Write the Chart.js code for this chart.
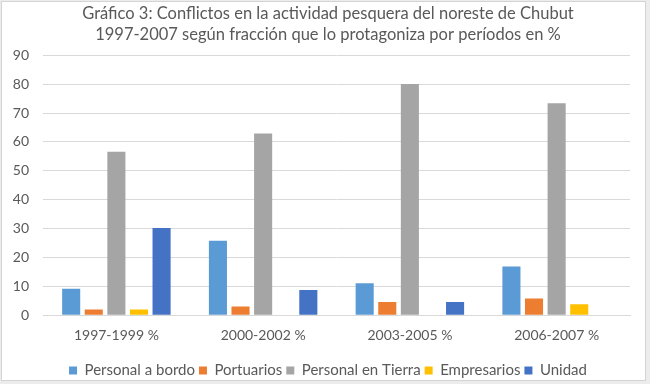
<!DOCTYPE html>
<html>
<head>
<meta charset="utf-8">
<script src="https://cdn.jsdelivr.net/npm/chart.js@4.4.1/dist/chart.umd.min.js"></script>
<style>
  html, body { margin: 0; padding: 0; background: #ececec; }
  #frame {
    position: absolute; left: 1px; top: 1px;
    width: 643px; height: 378px;
    background: #fff; border: 1px solid #d4d4d4;
  }
  #wrap { position: absolute; left: 0; top: 0; width: 643px; height: 378px; }
</style>
</head>
<body>
<div id="frame"><div id="wrap"><canvas id="barChart_conflictos"></canvas></div></div>
<script>
    // periodos
    var periodos = ['1997-1999 %', '2000-2002 %', '2003-2005 %', '2006-2007 %'];
    // fracciones
    var personalABordo = [9.2, 25.8, 11.1, 16.9];
    var portuarios = [2.0, 3.0, 4.6, 5.8];
    var personalEnTierra = [56.6, 62.9, 80.0, 73.4];
    var empresarios = [2.0, 0, 0, 3.8];
    var unidad = [30.2, 8.7, 4.6, 0];
    var yTicks = [0, 10, 20, 30, 40, 50, 60, 70, 80, 90];

    var fontFam = "Lato, 'Open Sans', sans-serif";
    var gris = '#595959';

    var barData = {
        labels: periodos,
        datasets: [
            { label: 'Personal a bordo', backgroundColor: '#5B9BD5', data: personalABordo },
            { label: 'Portuarios', backgroundColor: '#ED7D31', data: portuarios },
            { label: 'Personal en Tierra', backgroundColor: '#A5A5A5', data: personalEnTierra },
            { label: 'Empresarios', backgroundColor: '#FFC000', data: empresarios },
            { label: 'Unidad', backgroundColor: '#4472C4', data: unidad }
        ]
    };

    var barOptions = {
        responsive: true,
        maintainAspectRatio: false,
        animation: false,
        categoryPercentage: 0.77,
        barPercentage: 0.8,
        layout: { padding: { left: 9, right: 0, top: 0, bottom: -8 } },
        plugins: {
            title: {
                display: true,
                text: ['Gráfico 3: Conflictos en la actividad pesquera del noreste de Chubut',
                       '1997-2007 según fracción que lo protagoniza por períodos en %'],
                color: gris,
                font: { family: fontFam, size: 16.5, weight: 'normal', lineHeight: 1.28 },
                padding: { top: 1, bottom: 10 }
            },
            legend: {
                position: 'bottom',
                labels: {
                    color: gris,
                    font: { family: fontFam, size: 15 },
                    boxWidth: 8,
                    boxHeight: 8,
                    padding: 4
                }
            },
            tooltip: { enabled: false }
        },
        scales: {
            x: {
                grid: { display: false, drawTicks: false },
                border: { color: '#d9d9d9' },
                ticks: { color: gris, font: { family: fontFam, size: 14 }, padding: 12 },
                afterFit: function (axis) { axis.height += 3; }
            },
            y: {
                min: 0,
                max: 90,
                afterBuildTicks: function (axis) {
                    axis.ticks = yTicks.map(function (v) { return { value: v }; });
                },
                afterFit: function (axis) { axis.width = 32; },
                grid: { color: '#d9d9d9', drawTicks: false },
                border: { display: false },
                ticks: { color: gris, font: { family: fontFam, size: 14 }, padding: 14 }
            },
            // margen derecho vacío
            yDer: {
                position: 'right',
                grid: { display: false, drawTicks: false },
                border: { display: false },
                ticks: { display: false },
                afterFit: function (axis) { axis.width = 15; }
            }
        }
    };

    var ctx = document.getElementById('barChart_conflictos').getContext('2d');
    new Chart(ctx, { type: 'bar', data: barData, options: barOptions });
</script>
</body>
</html>
